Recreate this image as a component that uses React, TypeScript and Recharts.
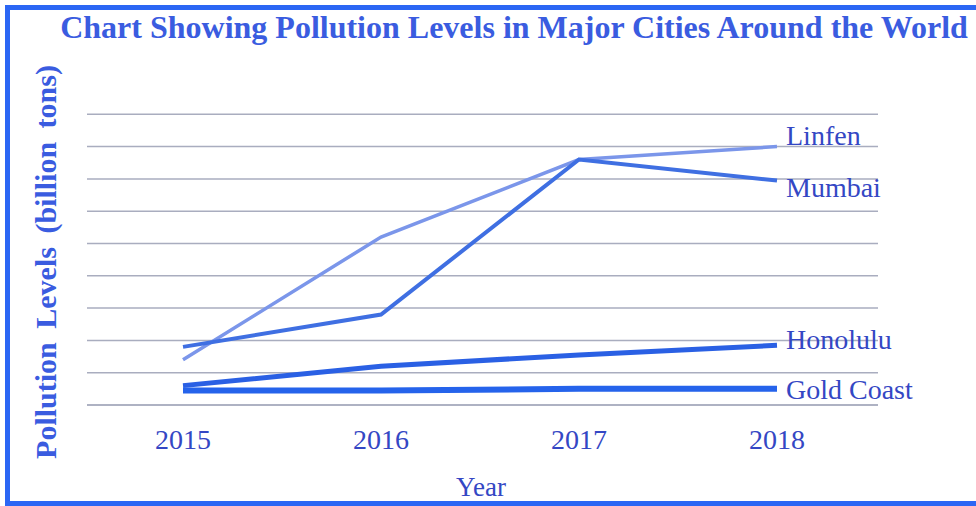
import { CartesianGrid, LabelList, Line, LineChart, XAxis, YAxis } from "recharts";

const years = ["2015", "2016", "2017", "2018"];
const linfen = [1.4, 5.2, 7.6, 8.0];
const mumbai = [1.8, 2.8, 7.6, 6.95];
const honolulu = [0.6, 1.2, 1.55, 1.85];
const goldCoast = [0.45, 0.45, 0.5, 0.5];
const yTicks = [0, 1, 2, 3, 4, 5, 6, 7, 8, 9];

const data = years.map((year, i) => ({
  year,
  Linfen: linfen[i],
  Mumbai: mumbai[i],
  Honolulu: honolulu[i],
  "Gold Coast": goldCoast[i],
}));

const TEXT = "#3447c4";
const TITLE = "#3a5ce0";
const GRID = "#a9adbf";
const SERIF = '"Liberation Serif", "Times New Roman", serif';

const series = [
  { key: "Linfen", color: "#7b96ea", width: 3.5, dy: -11 },
  { key: "Mumbai", color: "#3f6fe2", width: 4, dy: 7 },
  { key: "Honolulu", color: "#2a60e4", width: 5, dy: -6 },
  { key: "Gold Coast", color: "#2563eb", width: 6, dy: 1 },
];

function endLabel(name: string, dy: number) {
  return (props: any) => {
    const { x, y, index } = props;
    if (index !== years.length - 1) return null;
    return (
      <text x={x + 9} y={y + dy} dominantBaseline="central" fontFamily={SERIF} fontSize={28} fill={TEXT}>
        {name}
      </text>
    );
  };
}

export default function App() {
  return (
    <div style={{ position: "fixed", left: 0, top: 0, width: 976, height: 506, overflow: "hidden", background: "#fff" }}>
      <div
        style={{
          position: "absolute",
          left: 5,
          top: 5,
          width: 971,
          height: 501,
          boxSizing: "border-box",
          borderTop: "5px solid #2b66f4",
          borderLeft: "5px solid #2b66f4",
          borderBottom: "5px solid #2b66f4",
          borderRight: "0px none transparent",
        }}
      />
      <div
        style={{
          position: "absolute",
          left: 40,
          width: 948,
          top: 8,
          textAlign: "center",
          fontFamily: SERIF,
          fontWeight: "bold",
          fontSize: 32,
          color: TITLE,
          lineHeight: "38px",
          whiteSpace: "nowrap",
        }}
      >
        Chart Showing Pollution Levels in Major Cities Around the World
      </div>
      <div
        style={{
          position: "absolute",
          left: 46,
          top: 262,
          transform: "translate(-50%, -50%) rotate(-90deg)",
          whiteSpace: "nowrap",
          fontFamily: SERIF,
          fontWeight: "bold",
          fontSize: 30,
          color: TITLE,
          wordSpacing: 6,
        }}
      >
        Pollution Levels (billion tons)
      </div>
      <div
        style={{
          position: "absolute",
          left: 481,
          top: 487,
          transform: "translate(-50%, -50%)",
          fontFamily: SERIF,
          fontSize: 27,
          color: TEXT,
        }}
      >
        Year
      </div>
      <div style={{ position: "absolute", left: 0, top: 0 }}>
        <LineChart width={976} height={506} data={data} margin={{ top: 82, right: 98, left: 87, bottom: 41 }}>
          <CartesianGrid vertical={false} stroke={GRID} strokeWidth={1.5} horizontalValues={yTicks} />
          <XAxis
            dataKey="year"
            height={60}
            padding={{ left: 96, right: 101 }}
            axisLine={{ stroke: GRID, strokeWidth: 1.5 }}
            tickLine={false}
            tickMargin={18}
            tick={{ fontSize: 28, fill: TEXT, fontFamily: SERIF }}
          />
          <YAxis
            type="number"
            domain={[0, 10]}
            ticks={yTicks}
            width={0}
            tick={() => <g />}
            tickLine={false}
            axisLine={{ stroke: GRID, strokeWidth: 1.5 }}
          />
          {series.map((s) => (
            <Line
              key={s.key}
              type="linear"
              dataKey={s.key}
              stroke={s.color}
              strokeWidth={s.width}
              dot={false}
              activeDot={false}
              isAnimationActive={false}
            >
              <LabelList dataKey={s.key} content={endLabel(s.key, s.dy)} />
            </Line>
          ))}
        </LineChart>
      </div>
    </div>
  );
}
